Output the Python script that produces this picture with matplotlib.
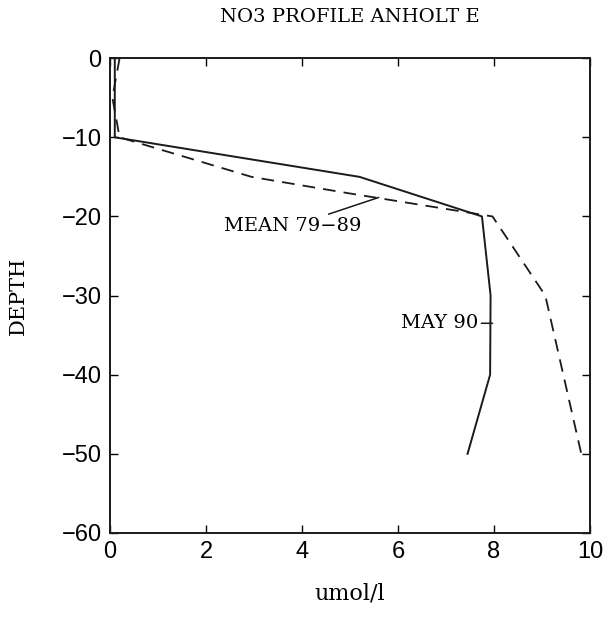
import numpy as np
import matplotlib
matplotlib.use('Agg')
import matplotlib.pyplot as plt

# depth profiles of NO3 (umol/l)
may90_depth = [0, -5, -10, -15, -20, -30, -40, -50]
may90_no3 = [0.1, 0.1, 0.1, 5.2, 7.75, 7.93, 7.92, 7.45]

mean_depth = [0, -5, -10, -15, -17, -20, -30, -50]
mean_no3 = [0.2, 0.05, 0.2, 2.95, 4.9, 7.97, 9.07, 9.82]

xticks = [0, 2, 4, 6, 8, 10]
yticks = [0, -10, -20, -30, -40, -50, -60]

serif = 'DejaVu Serif'
sans = 'Liberation Sans'

fig = plt.figure(figsize=(6.06, 6.19), dpi=100)
ax = fig.add_axes([0.1815, 0.139, 0.792, 0.767])

ax.plot(may90_no3, may90_depth, color='#1a1a1a', lw=1.4)
ax.plot(mean_no3, mean_depth, color='#1a1a1a', lw=1.3, dashes=(7, 4.5))

ax.set_xlim(0, 10)
ax.set_ylim(-60, 0)
ax.set_xticks(xticks)
ax.set_yticks(yticks)
ax.set_xticklabels([str(v) for v in xticks], fontfamily=sans, fontsize=17)
ax.set_yticklabels([str(v).replace('-', '\u2212') for v in yticks], fontfamily=sans, fontsize=17)
ax.tick_params(direction='in', top=True, right=True, length=6, width=1, pad=6)
for s in ax.spines.values():
    s.set_linewidth(1.4)
    s.set_color('#1a1a1a')

ax.set_title('NO3 PROFILE ANHOLT E', fontfamily=serif, fontsize=14, pad=26)
ax.set_xlabel('umol/l', fontfamily=serif, fontsize=16, labelpad=14)
ax.set_ylabel('DEPTH', fontfamily=serif, fontsize=15, labelpad=24)

ax.annotate('MEAN 79\u221289', xy=(5.6, -17.6), xytext=(5.25, -21.2),
            ha='right', va='center', fontfamily=serif, fontsize=14,
            arrowprops=dict(arrowstyle='-', color='#1a1a1a', lw=1.1, shrinkA=0, shrinkB=0))
ax.annotate('MAY 90', xy=(7.97, -33.5), xytext=(7.68, -33.5),
            ha='right', va='center', fontfamily=serif, fontsize=14,
            arrowprops=dict(arrowstyle='-', color='#1a1a1a', lw=1.1, shrinkA=0, shrinkB=0))

fig.savefig('out.png', dpi=100)
